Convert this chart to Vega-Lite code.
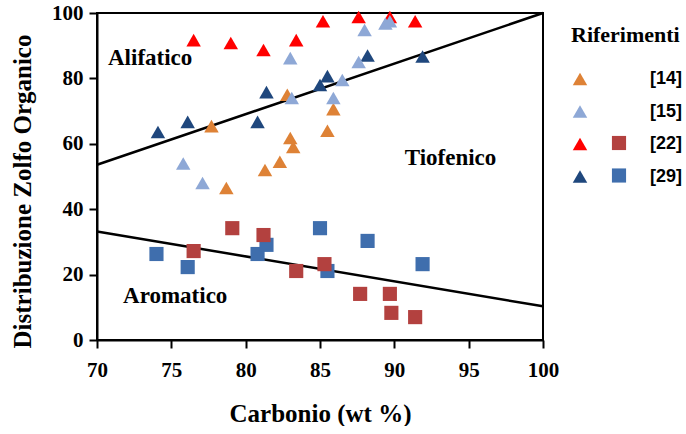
{
  "$schema": "https://vega.github.io/schema/vega-lite/v6.json",
  "width": 446,
  "height": 327,
  "padding": {"left": 10, "top": 2, "right": 0, "bottom": 0},
  "background": "white",
  "config": {
    "view": {"stroke": "black", "strokeWidth": 2},
    "style": {
      "guide-label": {"font": "Liberation Serif", "fontWeight": "bold", "fill": "black"},
      "guide-title": {"font": "Liberation Serif", "fontWeight": "bold", "fill": "black"}
    },
    "axis": {
      "grid": false,
      "domainColor": "black",
      "domainWidth": 2,
      "tickColor": "black",
      "tickWidth": 2,
      "tickSize": 8,
      "labelFont": "Liberation Serif",
      "labelFontWeight": "bold",
      "labelFontSize": 21,
      "labelColor": "black",
      "titleFont": "Liberation Serif",
      "titleFontWeight": "bold",
      "titleFontSize": 25,
      "titleColor": "black"
    }
  },
  "datasets": {
    "points": [
      {"ref": "29", "shape": "tri", "x": 74.1, "y": 63.6},
      {"ref": "29", "shape": "tri", "x": 76.1, "y": 66.7},
      {"ref": "29", "shape": "tri", "x": 80.8, "y": 66.7},
      {"ref": "29", "shape": "tri", "x": 81.4, "y": 75.8},
      {"ref": "29", "shape": "tri", "x": 85.0, "y": 78.0},
      {"ref": "29", "shape": "tri", "x": 85.5, "y": 80.7},
      {"ref": "29", "shape": "tri", "x": 88.2, "y": 87.0},
      {"ref": "29", "shape": "tri", "x": 91.9, "y": 86.7},
      {"ref": "22", "shape": "tri", "x": 76.5, "y": 91.7},
      {"ref": "22", "shape": "tri", "x": 79.0, "y": 90.8},
      {"ref": "22", "shape": "tri", "x": 81.2, "y": 88.7},
      {"ref": "22", "shape": "tri", "x": 83.4, "y": 91.7},
      {"ref": "22", "shape": "tri", "x": 85.2, "y": 97.5},
      {"ref": "22", "shape": "tri", "x": 87.6, "y": 98.8},
      {"ref": "22", "shape": "tri", "x": 89.7, "y": 98.8},
      {"ref": "22", "shape": "tri", "x": 91.4, "y": 97.5},
      {"ref": "14", "shape": "tri", "x": 77.7, "y": 65.4},
      {"ref": "14", "shape": "tri", "x": 78.7, "y": 46.5},
      {"ref": "14", "shape": "tri", "x": 81.3, "y": 52.0},
      {"ref": "14", "shape": "tri", "x": 82.3, "y": 54.5},
      {"ref": "14", "shape": "tri", "x": 82.8, "y": 75.0},
      {"ref": "14", "shape": "tri", "x": 83.0, "y": 61.8},
      {"ref": "14", "shape": "tri", "x": 83.2, "y": 59.0},
      {"ref": "14", "shape": "tri", "x": 85.5, "y": 64.0},
      {"ref": "14", "shape": "tri", "x": 85.9, "y": 70.6},
      {"ref": "15", "shape": "tri", "x": 75.8, "y": 54.0},
      {"ref": "15", "shape": "tri", "x": 77.1, "y": 48.0},
      {"ref": "15", "shape": "tri", "x": 83.0, "y": 86.2},
      {"ref": "15", "shape": "tri", "x": 83.1, "y": 74.0},
      {"ref": "15", "shape": "tri", "x": 85.9, "y": 74.0},
      {"ref": "15", "shape": "tri", "x": 86.5, "y": 79.5},
      {"ref": "15", "shape": "tri", "x": 87.6, "y": 85.0},
      {"ref": "15", "shape": "tri", "x": 88.0, "y": 94.8},
      {"ref": "15", "shape": "tri", "x": 89.4, "y": 96.8},
      {"ref": "15", "shape": "tri", "x": 89.7, "y": 97.5},
      {"ref": "29", "shape": "sq", "x": 74.0, "y": 26.3},
      {"ref": "29", "shape": "sq", "x": 76.1, "y": 22.3},
      {"ref": "29", "shape": "sq", "x": 80.8, "y": 26.3},
      {"ref": "29", "shape": "sq", "x": 81.4, "y": 29.1},
      {"ref": "29", "shape": "sq", "x": 85.0, "y": 34.2},
      {"ref": "29", "shape": "sq", "x": 85.5, "y": 21.1},
      {"ref": "29", "shape": "sq", "x": 88.2, "y": 30.3},
      {"ref": "29", "shape": "sq", "x": 91.9, "y": 23.2},
      {"ref": "22", "shape": "sq", "x": 79.1, "y": 34.2},
      {"ref": "22", "shape": "sq", "x": 81.2, "y": 32.1},
      {"ref": "22", "shape": "sq", "x": 76.5, "y": 27.2},
      {"ref": "22", "shape": "sq", "x": 83.4, "y": 21.1},
      {"ref": "22", "shape": "sq", "x": 85.3, "y": 23.2},
      {"ref": "22", "shape": "sq", "x": 87.7, "y": 14.1},
      {"ref": "22", "shape": "sq", "x": 89.7, "y": 14.1},
      {"ref": "22", "shape": "sq", "x": 89.8, "y": 8.3},
      {"ref": "22", "shape": "sq", "x": 91.4, "y": 7.0}
    ],
    "lines": [
      {"line": "upper", "x": 70, "y": 53.6},
      {"line": "upper", "x": 100, "y": 100},
      {"line": "lower", "x": 70, "y": 33.2},
      {"line": "lower", "x": 100, "y": 10.3}
    ],
    "labels": [
      {"label": "Alifatico", "x": 70.74, "y": 86.2},
      {"label": "Tiofenico", "x": 90.7, "y": 55.7},
      {"label": "Aromatico", "x": 71.75, "y": 13.5}
    ]
  },
  "resolve": {"scale": {"color": "independent"}, "legend": {"color": "independent"}},
  "layer": [
    {
      "data": {"name": "lines"},
      "mark": {"type": "line", "color": "black", "strokeWidth": 2.5},
      "encoding": {
        "x": {"field": "x", "type": "quantitative", "scale": {"domain": [70, 100]},
          "axis": {"values": [70, 75, 80, 85, 90, 95, 100], "title": "Carbonio (wt %)", "labelPadding": 11, "titlePadding": 21, "labelFlush": false,
            "labelFont": "Liberation Serif", "labelFontWeight": "bold", "labelFontSize": 21,
            "titleFont": "Liberation Serif", "titleFontWeight": "bold", "titleFontSize": 25}},
        "y": {"field": "y", "type": "quantitative", "scale": {"domain": [0, 100]},
          "axis": {"values": [0, 20, 40, 60, 80, 100], "title": "Distribuzione Zolfo Organico", "labelPadding": 6, "titlePadding": 16, "titleY": 178,
            "labelFont": "Liberation Serif", "labelFontWeight": "bold", "labelFontSize": 21,
            "titleFont": "Liberation Serif", "titleFontWeight": "bold", "titleFontSize": 25}},
        "detail": {"field": "line"}
      }
    },
    {
      "data": {"name": "points"},
      "transform": [{"filter": "datum.shape == 'tri'"}],
      "mark": {"type": "point", "shape": "triangle-up", "filled": true, "opacity": 1, "size": 210},
      "encoding": {
        "x": {"field": "x", "type": "quantitative"},
        "y": {"field": "y", "type": "quantitative"},
        "color": {"field": "ref", "type": "nominal",
          "scale": {"domain": ["14", "15", "22", "29"], "range": ["#DE8236", "#8EA8D6", "#FF0000", "#1F477D"]},
          "legend": {"orient": "none", "legendX": 474, "legendY": 12, "title": "Riferimenti",
            "titleFont": "Liberation Serif", "titleFontSize": 22, "titleFontWeight": "bold", "titleColor": "black", "titlePadding": 23,
            "labelFont": "Liberation Sans", "labelFontSize": 18, "labelFontWeight": "bold", "labelColor": "black",
            "labelExpr": "'[' + datum.label + ']'", "labelOffset": 61,
            "symbolType": "triangle-up", "symbolSize": 210, "symbolStrokeWidth": 0, "symbolOpacity": 1, "rowPadding": 14.5}}
      }
    },
    {
      "data": {"name": "points"},
      "transform": [{"filter": "datum.shape == 'sq'"}],
      "mark": {"type": "point", "shape": "square", "filled": true, "opacity": 1, "size": 200},
      "encoding": {
        "x": {"field": "x", "type": "quantitative"},
        "y": {"field": "y", "type": "quantitative"},
        "color": {"field": "ref", "type": "nominal",
          "scale": {"domain": ["22", "29"], "range": ["#B3413F", "#3F6EAD"]},
          "legend": {"orient": "none", "legendX": 513, "legendY": 121, "title": null,
            "labelExpr": "''", "labelFontSize": 18,
            "symbolType": "square", "symbolSize": 200, "symbolStrokeWidth": 0, "symbolOpacity": 1, "rowPadding": 14.5}}
      }
    },
    {
      "data": {"name": "labels"},
      "mark": {"type": "text", "align": "left", "baseline": "middle", "font": "Liberation Serif", "fontWeight": "bold", "fontSize": 23, "color": "black"},
      "encoding": {
        "x": {"field": "x", "type": "quantitative"},
        "y": {"field": "y", "type": "quantitative"},
        "text": {"field": "label"}
      }
    }
  ]
}
